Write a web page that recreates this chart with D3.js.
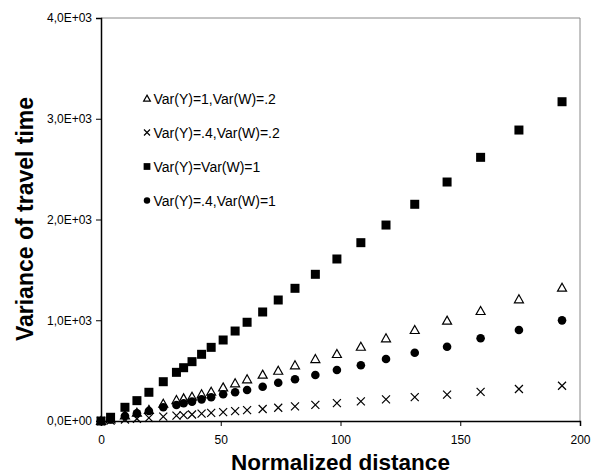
<!DOCTYPE html>
<html>
<head>
<meta charset="utf-8">
<script src="https://cdn.jsdelivr.net/npm/d3@7"></script>
<style>
  body { margin: 0; background: #fff; }
  svg { font-family: "Liberation Sans", Arial, sans-serif; }
</style>
</head>
<body>
<svg id="chart" width="600" height="475"></svg>
<script>
// normalized distance (x) shared by all series
const distance = [0, 4, 10, 15, 20, 26, 31.5, 34.5, 38, 42, 46, 51, 56, 61, 67.5, 74, 81,
                  89.5, 98.5, 108.5, 119, 131, 144.5, 158.5, 174.5, 192.5];

const seriesNames = ["Var(Y)=1,Var(W)=.2", "Var(Y)=.4,Var(W)=.2", "Var(Y)=Var(W)=1", "Var(Y)=.4,Var(W)=1"];
const seriesSymbols = ["triangle", "cross", "square", "circle"];

const triangleVals = [0, 15, 55, 82, 110, 172, 208, 225, 241, 265, 291, 334, 374, 414, 460, 499, 553,
                      615, 665, 737, 821, 903, 996, 1092, 1208, 1323];
const crossVals = [0, 4, 15, 22, 31, 43, 53, 58, 65, 73, 80, 88, 98, 108, 119, 132, 145,
                   160, 177, 195, 214, 237, 262, 289, 318, 350];
const squareVals = [0, 37, 136, 202, 285, 390, 483, 529, 589, 662, 731, 804, 893, 980, 1082, 1201, 1317,
                    1456, 1608, 1770, 1945, 2151, 2372, 2617, 2888, 3169];
const circleVals = [0, 15, 50, 76, 99, 136, 159, 176, 192, 215, 235, 265, 285, 308, 340, 380, 414,
                    457, 506, 553, 615, 678, 737, 821, 903, 999];

const xTicks = [0, 50, 100, 150, 200];
const yTicks = [0, 1000, 2000, 3000, 4000];

const svg = d3.select("#chart");
const plotLeft = 101, plotRight = 580, plotTop = 18, plotBottom = 421;

const x = d3.scaleLinear().domain([0, 200]).range([plotLeft, plotRight]);
const y = d3.scaleLinear().domain([0, 4000]).range([plotBottom, plotTop]);

// plot area border (top/right grey)
svg.append("path")
    .attr("d", `M${plotLeft},${plotTop}H${plotRight}V${plotBottom}`)
    .attr("fill", "none")
    .attr("stroke", "#888")
    .attr("stroke-width", 1);

const fmtY = d => d3.format(".1e")(d).replace(".", ",").replace(/e\+(\d)$/, "E+0$1").replace(/e\+(\d\d)$/, "E+$1");

const xAxis = svg.append("g")
    .attr("transform", `translate(0,${plotBottom})`)
    .call(d3.axisBottom(x).tickValues(xTicks).tickSize(5).tickPadding(9).tickFormat(d3.format("d")));
const yAxis = svg.append("g")
    .attr("transform", `translate(${plotLeft},0)`)
    .call(d3.axisLeft(y).tickValues(yTicks).tickSize(5).tickPadding(4).tickFormat(fmtY));

[xAxis, yAxis].forEach(g => {
    g.select(".domain").attr("stroke", "#000").attr("stroke-width", 1.5);
    g.selectAll(".tick line").attr("stroke", "#000");
    g.selectAll("text").attr("font-size", 12).attr("fill", "#000")
        .attr("font-family", "Liberation Sans, Arial, sans-serif");
});

// axis titles
svg.append("text")
    .attr("x", (plotLeft + plotRight) / 2)
    .attr("y", 470)
    .attr("text-anchor", "middle")
    .attr("font-size", 22.5)
    .attr("font-weight", "bold")
    .text("Normalized distance");

svg.append("text")
    .attr("transform", "translate(33,219) rotate(-90)")
    .attr("text-anchor", "middle")
    .attr("font-size", 23)
    .attr("font-weight", "bold")
    .text("Variance of travel time");

// marker drawing
function drawMarker(g, type, cx, cy, s = 1) {
    if (type === "square") {
        g.append("rect").attr("x", cx - 4.5 * s).attr("y", cy - 4.5 * s)
            .attr("width", 9 * s).attr("height", 9 * s).attr("fill", "#000");
    } else if (type === "circle") {
        g.append("circle").attr("cx", cx).attr("cy", cy).attr("r", 4.3 * s).attr("fill", "#000");
    } else if (type === "triangle") {
        g.append("path")
            .attr("d", `M${cx},${cy - 4.5 * s}L${cx + 4.5 * s},${cy + 3.5 * s}L${cx - 4.5 * s},${cy + 3.5 * s}Z`)
            .attr("fill", "#fff").attr("stroke", "#000").attr("stroke-width", 1.2);
    } else if (type === "cross") {
        g.append("path")
            .attr("d", `M${cx - 4 * s},${cy - 4 * s}L${cx + 4 * s},${cy + 4 * s}M${cx - 4 * s},${cy + 4 * s}L${cx + 4 * s},${cy - 4 * s}`)
            .attr("stroke", "#000").attr("stroke-width", 1.2);
    }
}

const allVals = [triangleVals, crossVals, squareVals, circleVals];
// triangles first so the filled markers sit on top, as in the figure
[0, 1, 2, 3].forEach(i => {
    const g = svg.append("g");
    distance.forEach((dx, j) => drawMarker(g, seriesSymbols[i], x(dx), y(allVals[i][j])));
});

// legend
const legend = svg.append("g");
seriesNames.forEach((name, i) => {
    const ly = 98.5 + i * 34;
    drawMarker(legend, seriesSymbols[i], 147, ly, 0.75);
    legend.append("text")
        .attr("x", 153.5)
        .attr("y", ly + 5)
        .attr("font-size", 14)
        .text(name);
});
</script>
</body>
</html>
